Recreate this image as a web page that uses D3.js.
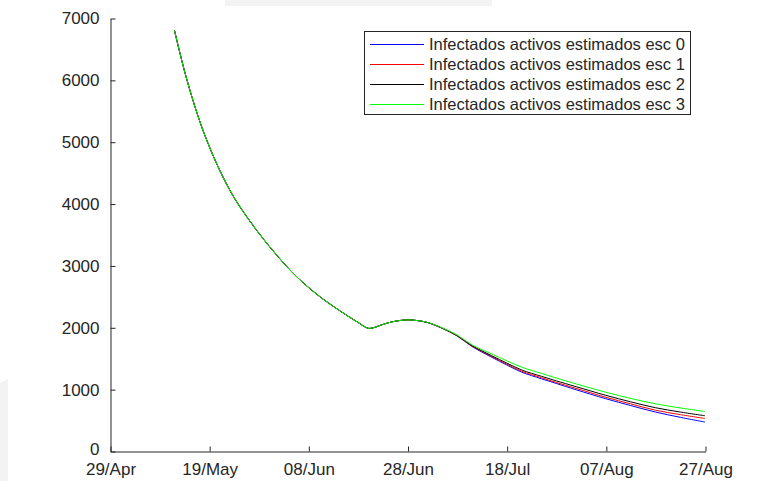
<!DOCTYPE html>
<html>
<head>
<meta charset="utf-8">
<script src="https://cdn.jsdelivr.net/npm/d3@7"></script>
<style>
  html, body { margin: 0; padding: 0; background: #fff; }
  svg { display: block; }
</style>
</head>
<body>
<svg id="chart" width="763" height="481"></svg>
<script>
// ---- Data ----
const dates = [
  "2020-05-12","2020-05-14","2020-05-16","2020-05-18","2020-05-21","2020-05-24","2020-05-27","2020-05-30",
  "2020-06-03","2020-06-06","2020-06-10","2020-06-13","2020-06-16","2020-06-18","2020-06-20","2020-06-21",
  "2020-06-23","2020-06-25","2020-06-28","2020-06-30","2020-07-02","2020-07-05","2020-07-08","2020-07-11",
  "2020-07-15","2020-07-18","2020-07-21","2020-07-25","2020-07-28","2020-08-01","2020-08-07","2020-08-12",
  "2020-08-17","2020-08-22","2020-08-27"
];
const esc0 = [6800,6150,5600,5130,4560,4100,3740,3420,3040,2790,2515,2340,2180,2080,1985,1990,2045,2090,2120,2108,2078,1984,1860,1690,1515,1392,1276,1168,1092,990,845,735,630,545,468];
const esc1 = [6800,6150,5600,5130,4560,4100,3740,3420,3040,2790,2515,2340,2180,2080,1985,1990,2045,2090,2120,2108,2078,1984,1864,1696,1526,1405,1291,1185,1108,1012,868,762,660,588,525];
const esc2 = [6800,6150,5600,5130,4560,4100,3740,3420,3040,2790,2515,2340,2180,2080,1985,1990,2045,2090,2120,2108,2078,1986,1868,1704,1540,1423,1311,1208,1134,1040,900,795,700,630,570];
const esc3 = [6800,6150,5600,5130,4560,4100,3740,3420,3040,2790,2515,2340,2180,2080,1985,1990,2045,2090,2120,2108,2080,1990,1875,1716,1568,1460,1356,1255,1180,1085,950,850,763,696,638];
const seriesNames = ["Infectados activos estimados esc 0","Infectados activos estimados esc 1","Infectados activos estimados esc 2","Infectados activos estimados esc 3"];
const seriesColors = ["#0000ff","#ff0000","#000000","#00ff00"];
const xTickLabels = ["29/Apr","19/May","08/Jun","28/Jun","18/Jul","07/Aug","27/Aug"];
const xTickDates = ["2020-04-29","2020-05-19","2020-06-08","2020-06-28","2020-07-18","2020-08-07","2020-08-27"];
const yTicks = [0,1000,2000,3000,4000,5000,6000,7000];

// ---- Drawing ----
const svg = d3.select("#chart");
const parse = d3.utcParse("%Y-%m-%d");
const FONT = "'Liberation Sans', Arial, sans-serif";
const AX = "#262626";

// screenshot background artifacts
svg.append("rect").attr("x", 225).attr("y", 0).attr("width", 267).attr("height", 6).attr("fill", "#f3f3f3");
svg.append("polygon").attr("points", "0,383 8,379 8,481 0,481").attr("fill", "#f3f3f3");

const x = d3.scaleUtc()
  .domain([parse(xTickDates[0]), parse(xTickDates[xTickDates.length - 1])])
  .range([110, 705]);
const y = d3.scaleLinear().domain([0, 7000]).range([451, 18]);

const allSeries = [esc0, esc1, esc2, esc3];
const line = d3.line()
  .x((d, i) => x(parse(dates[i])))
  .y(d => y(d))
  .curve(d3.curveCatmullRom.alpha(0.5));

const plot = svg.append("g");
allSeries.forEach((vals, k) => {
  plot.append("path")
    .datum(vals)
    .attr("d", line)
    .attr("fill", "none")
    .attr("stroke", seriesColors[k])
    .attr("stroke-width", 1);
});

// axes
const xAxis = d3.axisBottom(x)
  .tickValues(xTickDates.map(parse))
  .tickFormat((d, i) => xTickLabels[i])
  .tickSizeInner(-5).tickSizeOuter(0).tickPadding(11);
const gx = svg.append("g").attr("transform", "translate(0.5,451.5)").call(xAxis);

const yAxis = d3.axisLeft(y)
  .tickValues(yTicks)
  .tickFormat(d3.format("d"))
  .tickSizeInner(-5).tickSizeOuter(0).tickPadding(11);
const gy = svg.append("g").attr("transform", "translate(110.5,0.5)").call(yAxis);

[gx, gy].forEach(g => {
  g.select(".domain").attr("stroke", AX);
  g.selectAll(".tick line").attr("stroke", AX);
  g.selectAll(".tick text").attr("fill", AX).style("font-family", FONT).style("font-size", "17px");
});
gy.selectAll(".tick text").filter(d => d === 0).attr("dy", "0.2em");

// legend
const lg = svg.append("g");
lg.append("rect").attr("x", 364.5).attr("y", 31.5).attr("width", 326).attr("height", 83)
  .attr("fill", "#fff").attr("stroke", AX).attr("stroke-width", 1);
const rowY = [44.5, 64.5, 84.5, 104.5];
seriesNames.forEach((name, k) => {
  lg.append("line").attr("x1", 370).attr("x2", 424).attr("y1", rowY[k]).attr("y2", rowY[k])
    .attr("stroke", seriesColors[k]).attr("stroke-width", 1);
  lg.append("text").attr("x", 429).attr("y", rowY[k]).attr("dy", "0.36em")
    .attr("fill", AX).style("font-family", FONT).style("font-size", "16.5px")
    .text(name);
});
</script>
</body>
</html>
